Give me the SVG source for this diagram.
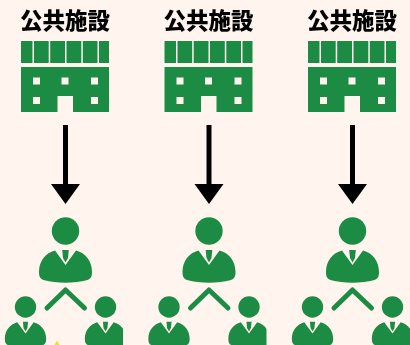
<svg xmlns="http://www.w3.org/2000/svg" xmlns:xlink="http://www.w3.org/1999/xlink" width="410" height="345" viewBox="0 0 410 345">
<style>
.t{font-family:"Noto Sans CJK JP","Noto Sans CJK SC",sans-serif;font-size:22.500px;font-weight:900;fill:#000;text-anchor:middle}
.g{fill:#1f8c45}
.w{fill:#fff5ee}
.c{fill:none;stroke:#1f8c45;stroke-width:5;stroke-linecap:round;stroke-linejoin:round}
.a{stroke:#000;stroke-width:5;fill:none}
</style>
<defs>
<filter id="soft" x="-5%" y="-5%" width="110%" height="110%"><feGaussianBlur stdDeviation="0.6"/></filter>
<g id="bld">
<rect class="g" x="21" y="41" width="88" height="22"/>
<rect class="g" x="21" y="67" width="88" height="45"/>
<g class="w">
<rect x="32.500" y="41" width="1.500" height="22"/><rect x="48.700" y="41" width="1.500" height="22"/><rect x="65" y="41" width="1.500" height="22"/><rect x="81.300" y="41" width="1.500" height="22"/><rect x="97.500" y="41" width="1.500" height="22"/>
<rect x="33" y="77.500" width="7" height="7"/><rect x="61.500" y="77.500" width="7" height="7"/><rect x="91" y="77.500" width="7" height="7"/>
<rect x="33" y="97" width="7" height="7"/><rect x="91" y="97" width="7" height="7"/>
<rect x="57.500" y="96" width="15.500" height="16"/>
</g>
</g>
<g id="p">
<circle class="g" cx="0" cy="0" r="13.700"/>
<path class="g" d="M-10.500 19.500C-20 22-26.500 30-26.500 41C-26.500 46-25 48-22 49C-8 52.500 8 52.500 22 49C25 48 26.500 46 26.500 41C26.500 30 20 22 10.500 19.500L0 34Z"/>
<path class="g" d="M-3.300 19H3.300L2.500 27L0 31.500L-2.500 27Z"/>
</g>
</defs>
<rect width="410" height="345" fill="#fff5ee"/>
<g filter="url(#soft)">
<g id="connectors">
<g id="arrow1"><path class="a" d="M65.500 125V186"/><path d="M51 184H80L65.500 204Z"/></g>
<g id="arrow2"><path class="a" d="M209 125V186"/><path d="M194.500 184H223.500L209 204Z"/></g>
<g id="arrow3"><path class="a" d="M352.500 125V186"/><path d="M338 184H367L352.500 204Z"/></g>
</g>
<g id="node1"><text class="t" x="65" y="29">公共施設</text><use xlink:href="#bld"/></g>
<g id="node2"><text class="t" x="208.500" y="29">公共施設</text><use xlink:href="#bld" x="143.500"/></g>
<g id="node3"><text class="t" x="352" y="29">公共施設</text><use xlink:href="#bld" x="287"/></g>
<g id="group1">
<use xlink:href="#p" transform="translate(65.500 231)"/>
<path class="c" d="M47 308L65.500 290L84.500 308"/>
<use xlink:href="#p" transform="translate(25.500 307) scale(.78)"/>
<use xlink:href="#p" transform="translate(105.500 307) scale(.78)"/>
</g>
<g id="group2">
<use xlink:href="#p" transform="translate(209 231)"/>
<path class="c" d="M190.500 308L209 290L228 308"/>
<use xlink:href="#p" transform="translate(169 307) scale(.78)"/>
<use xlink:href="#p" transform="translate(249 307) scale(.78)"/>
</g>
<g id="group3">
<use xlink:href="#p" transform="translate(352.500 231)"/>
<path class="c" d="M334 308L352.500 290L371.500 308"/>
<use xlink:href="#p" transform="translate(312.500 307) scale(.78)"/>
<use xlink:href="#p" transform="translate(392.500 307) scale(.78)"/>
</g>
<rect x="123" y="318" width="20" height="27" fill="#fff5ee"/>
<rect x="266.500" y="318" width="20" height="27" fill="#fff5ee"/>
</g>
<path d="M54.500 345L57 340.500L59.500 345Z" fill="#f2e21a"/>
</svg>
